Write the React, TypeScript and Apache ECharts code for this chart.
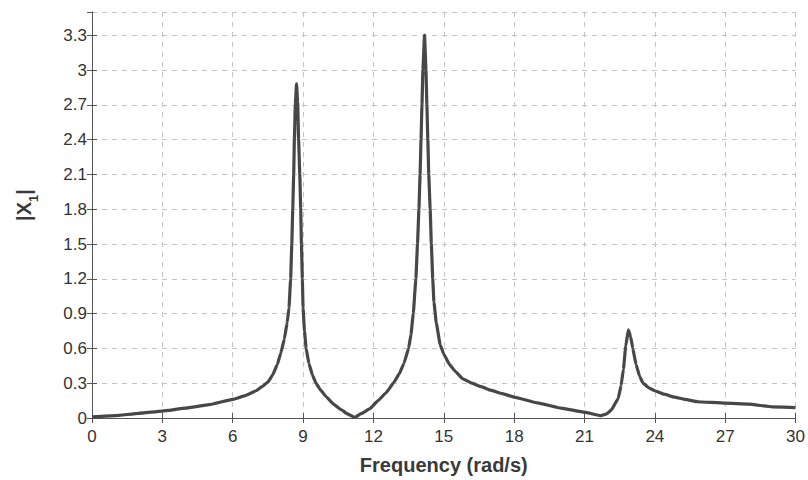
import React, { useEffect, useRef } from "react";
import * as echarts from "echarts";

// Frequency (rad/s)
const freq: number[] = [
  0, 1, 2, 3, 4, 5, 6, 6.5, 7, 7.25, 7.5, 7.7, 7.9, 8.05, 8.2, 8.32, 8.4, 8.47,
  8.52, 8.56, 8.6, 8.63, 8.67, 8.72, 8.77, 8.81, 8.86, 8.9, 8.93, 8.97, 9.0,
  9.06, 9.13, 9.25, 9.4, 9.55, 9.75, 10.0, 10.3, 10.6, 10.9, 11.2, 11.5, 11.85,
  12.2, 12.55, 12.85, 13.1, 13.3, 13.5, 13.6, 13.7, 13.81, 13.88, 13.94, 13.99,
  14.03, 14.07, 14.11, 14.18, 14.24, 14.28, 14.32, 14.36, 14.42, 14.47, 14.53,
  14.58, 14.68, 14.85, 15.0, 15.25, 15.5, 15.8, 16.2, 16.6, 17.0, 17.5, 18.0,
  19.0, 20.0, 21.0, 21.7, 21.95, 22.15, 22.44, 22.56, 22.66, 22.76, 22.87,
  22.97, 23.06, 23.2, 23.35, 23.5, 23.75, 24.0, 24.4, 24.84, 25.3, 25.83, 27.0,
  28.0, 29.0, 30.0,
];
// |X1|
const amp: number[] = [
  0.01, 0.02, 0.04, 0.06, 0.085, 0.115, 0.16, 0.19, 0.235, 0.27, 0.31, 0.37,
  0.46, 0.56, 0.68, 0.82, 0.95, 1.2, 1.5, 1.8, 2.1, 2.4, 2.7, 2.88, 2.72, 2.4,
  2.1, 1.8, 1.5, 1.2, 0.95, 0.75, 0.6, 0.47, 0.37, 0.3, 0.24, 0.18, 0.12, 0.075,
  0.035, 0.005, 0.04, 0.08, 0.15, 0.22, 0.3, 0.38, 0.47, 0.6, 0.72, 0.9, 1.2, 1.5,
  1.8, 2.1, 2.4, 2.7, 3.0, 3.3, 3.0, 2.7, 2.4, 2.1, 1.8, 1.5, 1.2, 1.0, 0.82,
  0.63, 0.55, 0.46, 0.4, 0.34, 0.3, 0.27, 0.24, 0.21, 0.18, 0.13, 0.085, 0.05,
  0.02, 0.035, 0.07, 0.17, 0.28, 0.42, 0.62, 0.76, 0.7, 0.6, 0.46, 0.36, 0.3,
  0.26, 0.235, 0.205, 0.18, 0.16, 0.14, 0.128, 0.12, 0.096, 0.09,
];

const xMin = 0;
const xMax = 30;
const xStep = 3;
const yMin = 0;
const yMax = 3.5;
const yStep = 0.3;

const xName = "Frequency (rad/s)";

export default function App() {
  const ref = useRef<HTMLDivElement>(null);
  useEffect(() => {
    if (!ref.current) return;
    const chart = echarts.init(ref.current, undefined, { renderer: "svg" });
    const font = "'Liberation Sans', Arial, sans-serif";
    const axisColor = "#555";
    const data = freq.map((f, i) => [f, amp[i]]);
    chart.setOption({
      animation: false,
      backgroundColor: "#fff",
      textStyle: { fontFamily: font },
      grid: { left: 92, right: 7, top: 12, bottom: 62 },
      xAxis: [
        {
          type: "value",
          min: xMin,
          max: xMax,
          interval: xStep,
          position: "bottom",
          name: xName,
          nameLocation: "middle",
          nameGap: 37,
          nameTextStyle: { fontSize: 20, fontWeight: "bold", color: "#3a3a3a", fontFamily: font },
          axisLine: { show: true, lineStyle: { color: axisColor, width: 1 } },
          axisTick: { show: true, inside: true, length: 5, lineStyle: { color: axisColor } },
          axisLabel: { fontSize: 17, color: "#333", margin: 10, fontFamily: font },
          splitLine: { show: true, lineStyle: { color: "#c4c4c4", type: [5, 5], width: 1 } },
        },
        {
          type: "value",
          min: xMin,
          max: xMax,
          interval: xStep,
          position: "top",
          axisLine: { show: true, lineStyle: { color: axisColor, width: 1 } },
          axisTick: { show: true, inside: true, length: 5, lineStyle: { color: axisColor } },
          axisLabel: { show: false },
          splitLine: { show: false },
        },
      ],
      yAxis: [
        {
          type: "value",
          min: yMin,
          max: yMax,
          interval: yStep,
          position: "left",
          axisLine: { show: true, lineStyle: { color: axisColor, width: 1 } },
          axisTick: { show: true, inside: true, length: 5, lineStyle: { color: axisColor } },
          axisLabel: { fontSize: 17, color: "#333", margin: 5, showMaxLabel: false, fontFamily: font },
          splitLine: { show: true, lineStyle: { color: "#c4c4c4", type: [5, 5], width: 1 } },
        },
        {
          type: "value",
          min: yMin,
          max: yMax,
          interval: yStep,
          position: "right",
          axisLine: { show: true, lineStyle: { color: axisColor, width: 1 } },
          axisTick: { show: true, inside: true, length: 5, lineStyle: { color: axisColor } },
          axisLabel: { show: false },
          splitLine: { show: false },
        },
      ],
      graphic: [
        {
          type: "text",
          x: 27,
          y: 205,
          rotation: Math.PI / 2,
          style: {
            text: "{m||X}{s|1}{m||}",
            align: "center",
            verticalAlign: "middle",
            fill: "#3a3a3a",
            rich: {
              m: { fontSize: 20, fontWeight: "bold", fontFamily: font, fill: "#3a3a3a", verticalAlign: "bottom", padding: [0, 0, 6, 0] },
              s: { fontSize: 13, fontWeight: "bold", fontFamily: font, fill: "#3a3a3a", verticalAlign: "bottom" },
            },
          },
        },
      ],
      series: [
        {
          type: "line",
          xAxisIndex: 0,
          yAxisIndex: 0,
          data,
          showSymbol: false,
          symbol: "none",
          smooth: 0.1,
          smoothMonotone: "x",
          lineStyle: { color: "#474747", width: 3.2 },
          z: 5,
        },
      ],
    });
    return () => chart.dispose();
  }, []);
  return (
    <div
      ref={ref}
      style={{ position: "fixed", left: 0, top: 0, width: 808, height: 480 }}
    />
  );
}
